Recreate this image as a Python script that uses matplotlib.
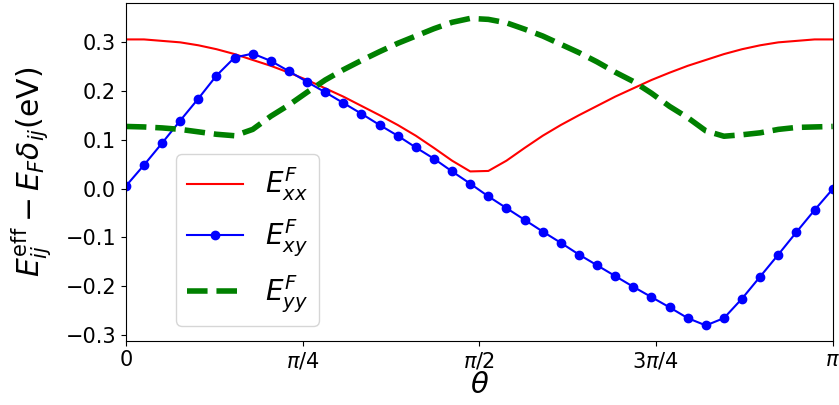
import numpy as np
import matplotlib
matplotlib.use('Agg')
import matplotlib.pyplot as plt

# 40 sample angles from 0 to pi
theta = np.linspace(0, np.pi, 40)

E_xx = [0.305, 0.305, 0.302, 0.299, 0.293, 0.285, 0.275, 0.263, 0.251, 0.237,
        0.222, 0.205, 0.188, 0.169, 0.150, 0.130, 0.108, 0.083, 0.057, 0.035,
        0.036, 0.057, 0.083, 0.108, 0.130, 0.150, 0.169, 0.188, 0.205, 0.222,
        0.237, 0.251, 0.263, 0.275, 0.285, 0.293, 0.299, 0.302, 0.305, 0.305]

E_xy = [0.005, 0.048, 0.093, 0.139, 0.184, 0.231, 0.268, 0.276, 0.261, 0.240,
        0.218, 0.197, 0.175, 0.153, 0.130, 0.108, 0.084, 0.061, 0.035, 0.010,
        -0.016, -0.040, -0.064, -0.088, -0.111, -0.135, -0.157, -0.179, -0.201, -0.222,
        -0.243, -0.265, -0.280, -0.265, -0.225, -0.180, -0.135, -0.089, -0.044, -0.001]

E_yy = [0.127, 0.126, 0.124, 0.121, 0.116, 0.111, 0.108, 0.121, 0.148, 0.171,
        0.197, 0.222, 0.243, 0.262, 0.280, 0.297, 0.312, 0.327, 0.340, 0.348,
        0.346, 0.339, 0.326, 0.312, 0.295, 0.278, 0.259, 0.238, 0.219, 0.195,
        0.168, 0.145, 0.118, 0.107, 0.110, 0.114, 0.121, 0.125, 0.126, 0.127]

xtick_pos = [0, np.pi/4, np.pi/2, 3*np.pi/4, np.pi]
xtick_lab = ['0', r'$\pi/4$', r'$\pi/2$', r'$3\pi/4$', r'$\pi$']

fig = plt.figure(figsize=(8.39, 4.05), dpi=100)
ax = fig.add_subplot(111)
fig.subplots_adjust(left=0.15, right=0.9925, top=0.992, bottom=0.159)

ax.plot(theta, E_xx, 'r-', lw=1.5, label=r'$E^F_{xx}$')
ax.plot(theta, E_xy, 'b-', marker='o', ms=6, lw=1.5, label=r'$E^F_{xy}$')
ax.plot(theta, E_yy, color='green', ls='--', lw=4, label=r'$E^F_{yy}$')

ax.set_xlim(0, np.pi)
ax.set_ylim(-0.311, 0.379)
ax.set_xticks(xtick_pos)
ax.set_xticklabels(xtick_lab)
ax.set_yticks([-0.3, -0.2, -0.1, 0.0, 0.1, 0.2, 0.3])
ax.tick_params(labelsize=15)

ax.set_xlabel(r'$\theta$', fontsize=21, labelpad=0)
ax.set_ylabel(r'$E^{\rm eff}_{ij}-E_F\delta_{ij}$(eV)', fontsize=21.5, labelpad=8)

ax.legend(loc='lower left', bbox_to_anchor=(0.071, 0.044), borderaxespad=0,
          fontsize=20)

plt.savefig('out.png', dpi=100)
